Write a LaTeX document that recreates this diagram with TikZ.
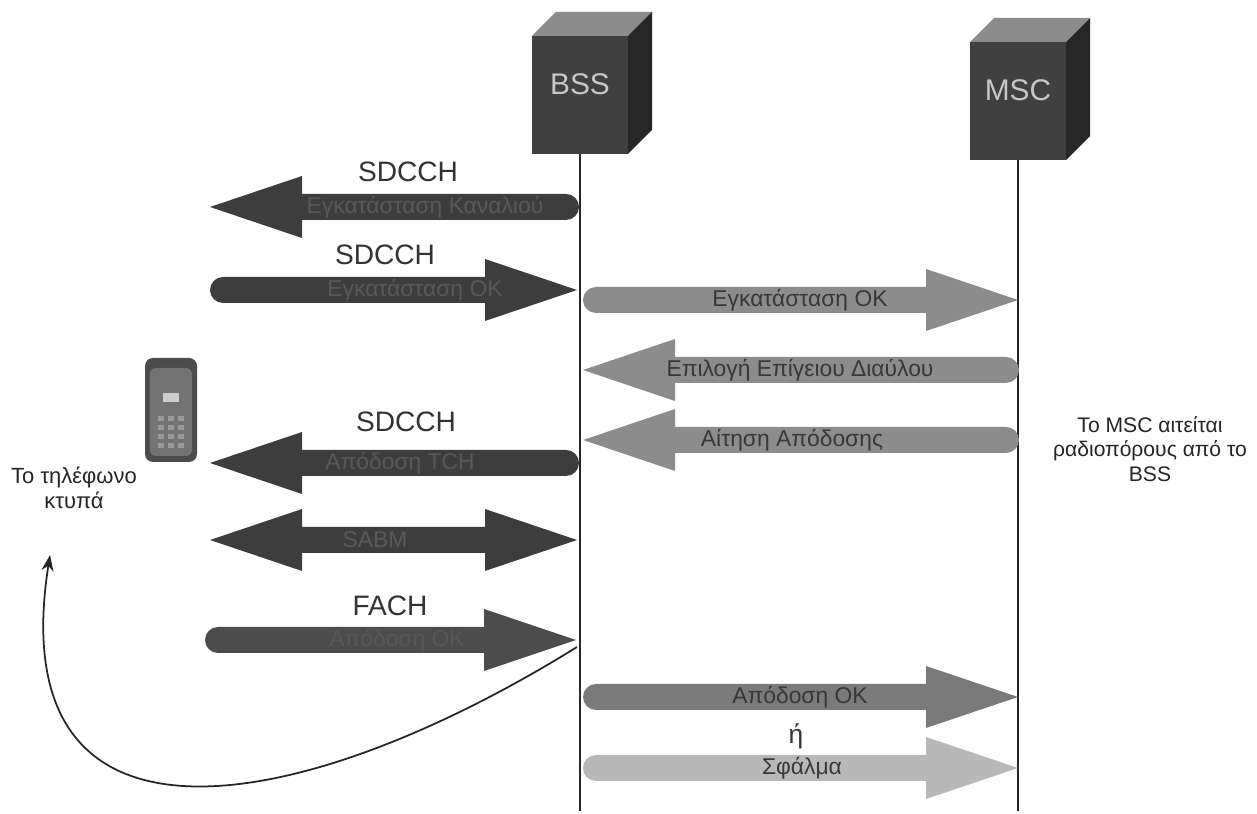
\documentclass[tikz,border=0pt]{standalone}
\usepackage{fontspec}
\setmainfont{Liberation Sans}
\usetikzlibrary{arrows.meta}
\definecolor{darkmsg}{gray}{0.24}
\definecolor{darktxt}{gray}{0.34}
\definecolor{midmsg}{gray}{0.55}
\definecolor{lightmsg}{gray}{0.72}
% block arrows: [fill](left x:right x:y)
\def\rmsg[#1](#2:#3:#4){\fill[#1] (#2+13,#4-13) -- (#3-92,#4-13) -- (#3-92,#4-31) -- (#3,#4) -- (#3-92,#4+31) -- (#3-92,#4+13) -- (#2+13,#4+13) arc (90:270:0.26cm) -- cycle;}
\def\lmsg[#1](#2:#3:#4){\fill[#1] (#2,#4) -- (#2+92,#4+31) -- (#2+92,#4+13) -- (#3-13,#4+13) arc (90:-90:0.26cm) -- (#2+92,#4-13) -- (#2+92,#4-31) -- cycle;}
\def\dmsg[#1](#2:#3:#4){\fill[#1] (#2,#4) -- (#2+92,#4+31) -- (#2+92,#4+13) -- (#3-92,#4+13) -- (#3-92,#4+31) -- (#3,#4) -- (#3-92,#4-31) -- (#3-92,#4-13) -- (#2+92,#4-13) -- (#2+92,#4-31) -- cycle;}

\begin{document}
\begin{tikzpicture}[x=0.02cm, y=0.02cm,
		lifeline/.style={line width=1.1pt, color=black!85},
		signame/.style={font=\fontsize{16}{19}\selectfont, text=black!80},
		msgtext/.style={font=\fontsize{13}{15}\selectfont, text=black!78},
		hidtext/.style={font=\fontsize{13}{15}\selectfont, text=darktxt},
		sidetext/.style={font=\fontsize{12.5}{14}\selectfont, align=center, text=black!85}]
		%%%%% START %%%%%
		\useasboundingbox[fill=white] (0, 0) rectangle (1257, 814);
		
		% cubes and lifelines
		\foreach \name/\lbl/\x/\y in {bss/BSS/580/660, msc/MSC/1018/654}{
			\fill[black!75] (\x-48, \y) rectangle (\x+48, \y+118);
			\fill[black!45] (\x-48, \y+118) -- (\x-24, \y+142) -- (\x+72, \y+142) -- (\x+48, \y+118) -- cycle;
			\fill[black!85] (\x+48, \y) -- (\x+72, \y+24) -- (\x+72, \y+142) -- (\x+48, \y+118) -- cycle;
			\node[font=\fontsize{17}{20}\selectfont, text=black!22] (\name) at (\x, \y+70) {\lbl};
			\coordinate (\name-top) at (\x, \y);
			\coordinate (\name-bot) at (\x, 3);
			\draw[lifeline] (\name-top) -- (\name-bot);
		}
		
		% MS <-> BSS
		\lmsg[darkmsg](210:579:607);
		\node[signame] (sd1) at (408, 642) {SDCCH};
		\node[hidtext] (m1) at (425, 607) {Εγκατάσταση Καναλιού};
		
		\rmsg[darkmsg](210:577:524);
		\node[signame] (sd2) at (385, 559) {SDCCH};
		\node[hidtext] (m2) at (415, 524) {Εγκατάσταση ΟΚ};
		
		\lmsg[darkmsg](210:579:351);
		\node[signame] (sd3) at (406, 392) {SDCCH};
		\node[hidtext] (m5) at (400, 351) {Απόδοση TCH};
		
		\dmsg[darkmsg](210:577:274);
		\node[hidtext] (m6) at (375, 274) {SABM};
		
		\rmsg[black!70](205:576:174);
		\node[signame] (fach) at (390, 208) {FACH};
		\node[hidtext] (m7) at (397, 174) {Απόδοση ΟΚ};
		
		% BSS <-> MSC
		\rmsg[midmsg](583:1018:514);
		\node[msgtext] (m3) at (800, 514) {Εγκατάσταση ΟΚ};
		\lmsg[midmsg](583:1019:444);
		\node[msgtext] (m4a) at (800, 444) {Επιλογή Επίγειου Διαύλου};
		\lmsg[midmsg](583:1019:374);
		\node[msgtext] (m4b) at (792, 374) {Αίτηση Απόδοσης};
		
		\rmsg[black!52](583:1018:117);
		\node[msgtext] (m8) at (800, 117) {Απόδοση ΟΚ};
		\node[font=\fontsize{15}{18}\selectfont, text=black!80] (or) at (796, 78) {ή};
		\rmsg[lightmsg](583:1018:46);
		\node[msgtext] (m9) at (802, 46) {Σφάλμα};
		
		% phone
		\fill[black!70, rounded corners=0.16cm] (145, 352) rectangle (197, 456);
		\fill[black!55, rounded corners=0.1cm] (150, 358) rectangle (192, 446);
		\fill[black!20] (163, 412) rectangle (179, 421);
		\foreach \i in {0,1,2}{
			\foreach \j in {0,1,2,3}{
				\fill[black!40] (158+\i*10, 366+\j*9) rectangle (164+\i*10, 371+\j*9);
			}
		}
		
		\node[sidetext] (ring) at (74, 326) {Το τηλέφωνο\\κτυπά};
		\node[sidetext, font=\fontsize{12}{14}\selectfont, anchor=north] (req) at (1150, 404) {Το MSC αιτείται\\ραδιοπόρους από το\\BSS};
		
		\coordinate (fachtip) at (577, 167);
		\coordinate (ringtip) at (50, 259);
		\draw[line width=1pt, black!85, -{Stealth[length=0.32cm, width=0.24cm]}] (fachtip) .. controls (300, -5) and (0, -60) .. (ringtip);
		%%%%% END %%%%%
	\end{tikzpicture}
\end{document}
